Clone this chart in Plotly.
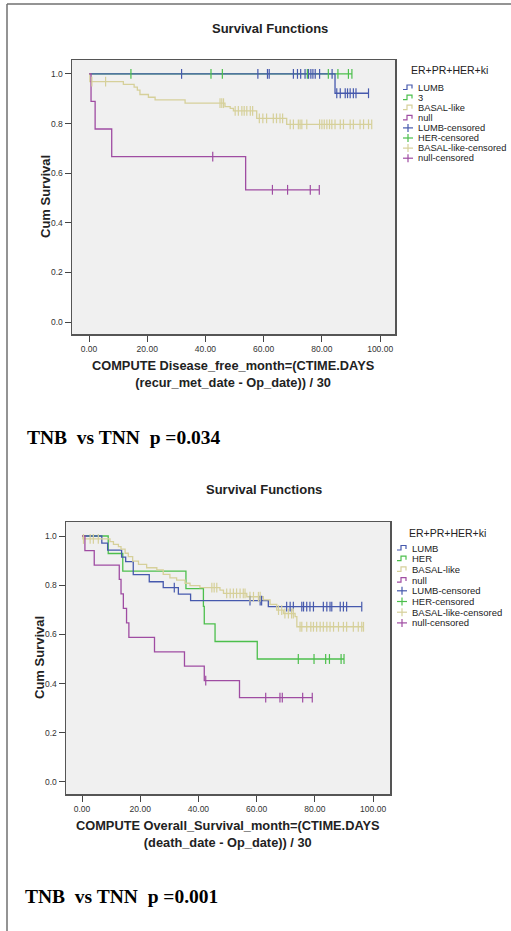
import plotly.graph_objects as go

W, H = 511, 931
FONT = "Liberation Sans, Arial, sans-serif"
SERIF = "Liberation Serif, Times New Roman, serif"

# ---------------- tick labels ----------------
x_ticks = [0, 20, 40, 60, 80, 100]
x_tick_labels = ["0.00", "20.00", "40.00", "60.00", "80.00", "100.00"]
y_ticks = [0.0, 0.2, 0.4, 0.6, 0.8, 1.0]
y_tick_labels = ["0.0", "0.2", "0.4", "0.6", "0.8", "1.0"]

# ---------------- chart 1: disease-free survival ----------------
dfs_lumb_t = [84.5]
dfs_lumb_s = [0.922]
dfs_lumb_cens = [31.8, 58.0, 61.3, 61.9, 70.2, 71.6, 72.7, 74.2, 75.4, 76.2, 76.9,
                 77.7, 79.2, 83.5, 85.1, 86.3, 88.0, 88.8, 89.7, 90.8, 91.7, 96.0]

dfs_her_t = []
dfs_her_s = []
dfs_her_cens = [14.4, 41.9, 45.8, 75.0, 82.2, 85.5, 89.1, 90.3]

dfs_basal_t = [0.3, 11.8, 15.5, 16.6, 17.5, 20.4, 22.7, 33.0, 46.7, 48.5, 49.6, 57.6, 67.9]
dfs_basal_s = [0.969, 0.958, 0.947, 0.935, 0.917, 0.906, 0.895, 0.882, 0.868, 0.861,
               0.851, 0.821, 0.797]
dfs_basal_cens = [1.0, 5.7, 45.0, 45.6, 46.2, 50.2, 51.3, 52.5, 53.3, 54.2, 55.4, 56.2,
                  58.5, 59.7, 61.0, 63.3, 64.4, 65.6, 66.5, 69.1, 70.2, 71.9, 72.5, 73.1,
                  74.8, 79.2, 80.0, 80.8, 81.7, 82.6, 83.4, 84.5, 86.3, 87.4, 89.7, 90.8,
                  93.1, 94.3, 96.0, 97.1]

dfs_null_t = [0.7, 2.1, 7.8, 53.8]
dfs_null_s = [0.889, 0.778, 0.667, 0.533]
dfs_null_cens = [42.5, 63.0, 68.2, 76.0, 79.1]

# ---------------- chart 2: overall survival ----------------
os_lumb_t = [6.8, 8.8, 13.6, 15.0, 17.6, 23.1, 27.9, 33.1, 37.3, 64.0]
os_lumb_s = [0.971, 0.943, 0.914, 0.896, 0.843, 0.814, 0.790, 0.764, 0.737, 0.713]
os_lumb_cens = [31.7, 57.7, 61.2, 61.7, 70.3, 71.5, 72.6, 75.5, 76.1, 77.2, 78.3, 79.5,
                82.9, 84.1, 85.2, 85.8, 88.7, 89.8, 90.9, 96.1]

os_her_t = [9.0, 14.0, 35.7, 41.7, 42.0, 45.7, 60.2]
os_her_s = [0.929, 0.857, 0.786, 0.714, 0.643, 0.571, 0.500]
os_her_cens = [74.3, 79.7, 83.7, 85.0, 89.0, 90.0]

os_basal_t = [0.3, 9.6, 10.8, 12.5, 13.4, 14.8, 15.9, 17.4, 19.4, 22.2, 25.7, 27.9, 30.2,
              32.5, 35.4, 37.1, 40.5, 47.4, 48.6, 56.6, 62.3, 64.6, 66.9, 69.2, 73.2, 73.8]
os_basal_s = [0.988, 0.977, 0.966, 0.957, 0.947, 0.930, 0.916, 0.898, 0.885, 0.871, 0.862,
              0.844, 0.830, 0.821, 0.808, 0.798, 0.790, 0.780, 0.767, 0.753, 0.740, 0.722,
              0.699, 0.685, 0.672, 0.631]
os_basal_cens = [0.5, 2.8, 3.9, 5.6, 44.6, 45.4, 46.3, 49.7, 50.9, 52.0, 53.1, 54.3, 55.4,
                 56.0, 57.7, 58.9, 60.6, 61.2, 67.5, 68.6, 69.7, 70.9, 72.0, 72.6, 74.9,
                 75.5, 77.2, 78.6, 79.5, 80.6, 81.8, 82.9, 84.1, 85.2, 86.4, 88.1, 89.8,
                 90.9, 93.2, 94.9, 96.1, 96.7]

os_null_t = [1.0, 4.2, 12.8, 13.4, 14.2, 15.3, 16.1, 24.9, 35.2, 42.0, 54.1]
os_null_s = [0.941, 0.882, 0.824, 0.765, 0.706, 0.647, 0.588, 0.529, 0.471, 0.412, 0.343]
os_null_cens = [42.5, 63.1, 68.0, 68.8, 75.8, 79.1]

legend_title = "ER+PR+HER+ki"
legend_labels_1 = ["LUMB", "3", "BASAL-like", "null", "LUMB-censored", "HER-censored",
                   "BASAL-like-censored", "null-censored"]
legend_labels_2 = ["LUMB", "HER", "BASAL-like", "null", "LUMB-censored", "HER-censored",
                   "BASAL-like-censored", "null-censored"]

C_LUMB = "#4659ad"
C_HER = "#4cbf4c"
C_BASAL = "#d6d09a"
C_NULL = "#9f4ca2"
series_colors = [C_LUMB, C_HER, C_BASAL, C_NULL]


def px(x):
    return x / W


def py(y):
    return 1 - y / H


def surv_at(t, ev_t, ev_s):
    s = 1.0
    for et, es in zip(ev_t, ev_s):
        if et <= t:
            s = es
    return s


fig = go.Figure()


def add_line(xa, ya, ev_t, ev_s, cens, color):
    t_end = max(list(ev_t) + list(cens))
    last = ev_s[-1] if ev_s else 1.0
    xs = [0] + list(ev_t) + [t_end]
    ys = [1.0] + list(ev_s) + [last]
    fig.add_trace(go.Scatter(x=xs, y=ys, mode="lines", xaxis=xa, yaxis=ya,
                             line=dict(color=color, width=1.3, shape="hv"),
                             showlegend=False, hoverinfo="skip"))


def add_cens(xa, ya, ev_t, ev_s, cens, color):
    ys = [surv_at(t, ev_t, ev_s) for t in cens]
    fig.add_trace(go.Scatter(x=cens, y=ys, mode="markers", xaxis=xa, yaxis=ya,
                             marker=dict(symbol="line-ns-open", size=7, color=color,
                                         line=dict(color=color, width=1.2)),
                             showlegend=False, hoverinfo="skip"))


chart1 = [
    (dfs_her_t, dfs_her_s, dfs_her_cens, C_HER),
    (dfs_lumb_t, dfs_lumb_s, dfs_lumb_cens, C_LUMB),
    (dfs_basal_t, dfs_basal_s, dfs_basal_cens, C_BASAL),
    (dfs_null_t, dfs_null_s, dfs_null_cens, C_NULL),
]
chart2 = [
    (os_her_t, os_her_s, os_her_cens, C_HER),
    (os_lumb_t, os_lumb_s, os_lumb_cens, C_LUMB),
    (os_basal_t, os_basal_s, os_basal_cens, C_BASAL),
    (os_null_t, os_null_s, os_null_cens, C_NULL),
]
for xa, ya, ch in [("x", "y", chart1), ("x2", "y2", chart2)]:
    for s in ch:
        add_line(xa, ya, *s)
    for s in ch:
        add_cens(xa, ya, *s)

axis_common = dict(showgrid=False, zeroline=False, ticks="outside", ticklen=6,
                   tickwidth=1, tickcolor="#444444", showline=True, mirror=True,
                   linecolor="#555555", linewidth=1.5,
                   tickfont=dict(family=FONT, size=8.5, color="#333333"))

fig.update_layout(
    width=W, height=H, margin=dict(l=0, r=0, t=0, b=0),
    paper_bgcolor="white", plot_bgcolor="#f0f0f0", showlegend=False,
    xaxis=dict(domain=[px(72), px(395)], range=[-5.84, 105.1], anchor="y",
               tickvals=x_ticks, ticktext=x_tick_labels, **axis_common),
    yaxis=dict(domain=[py(334), py(60)], range=[-0.048, 1.056], anchor="x",
               tickvals=y_ticks, ticktext=y_tick_labels, **axis_common),
    xaxis2=dict(domain=[px(66), px(390)], range=[-5.5, 105.8], anchor="y2",
                tickvals=x_ticks, ticktext=x_tick_labels, **axis_common),
    yaxis2=dict(domain=[py(794), py(522)], range=[-0.049, 1.057], anchor="x2",
                tickvals=y_ticks, ticktext=y_tick_labels, **axis_common),
)

ann = []
shapes = []


def text(x, y, s, size, bold=False, family=FONT, xanchor="center", angle=0, color="#222222"):
    ann.append(dict(x=px(x), y=py(y), xref="paper", yref="paper",
                    text=(f"<b>{s}</b>" if bold else s),
                    showarrow=False, xanchor=xanchor, yanchor="middle", textangle=angle,
                    font=dict(family=family, size=size, color=color)))


# page border
shapes.append(dict(type="line", xref="paper", yref="paper", x0=px(7), y0=py(4), x1=1, y1=py(4),
                   line=dict(color="#707070", width=1.5)))
shapes.append(dict(type="line", xref="paper", yref="paper", x0=px(7), y0=py(4), x1=px(7), y1=0,
                   line=dict(color="#707070", width=1.5)))

# titles
text(269.5, 28, "Survival Functions", 13, bold=True)
text(264, 489, "Survival Functions", 13, bold=True)

# axis titles
text(45, 197, "Cum Survival", 13, bold=True, angle=-90)
text(233.5, 374, "COMPUTE Disease_free_month=(CTIME.DAYS<br>(recur_met_date - Op_date)) / 30",
     12.8, bold=True)
text(39, 658, "Cum Survival", 13, bold=True, angle=-90)
text(228, 834, "COMPUTE Overall_Survival_month=(CTIME.DAYS<br>(death_date - Op_date)) / 30",
     12.8, bold=True)

# p-value notes
text(25, 438, "TNB\u00a0 vs TNN\u00a0 p =0.034", 19.5, bold=True, family=SERIF, xanchor="left",
     color="#000000")
text(23, 896, "TNB\u00a0 vs TNN\u00a0 p =0.001", 19.5, bold=True, family=SERIF, xanchor="left",
     color="#000000")


def legend(tx, ty, x0, y0, dy, labels, fsize):
    text(tx, ty, legend_title, 10.5)
    for i, lab in enumerate(labels):
        yc = y0 + dy * i
        col = series_colors[i % 4]
        if i < 4:
            path = (f"M {px(x0)},{py(yc + 2)} L {px(x0 + 4)},{py(yc + 2)} "
                    f"L {px(x0 + 4)},{py(yc - 2.5)} L {px(x0 + 9)},{py(yc - 2.5)} "
                    f"L {px(x0 + 9)},{py(yc + 1)}")
            shapes.append(dict(type="path", xref="paper", yref="paper", path=path,
                               line=dict(color=col, width=1.2)))
        else:
            shapes.append(dict(type="line", xref="paper", yref="paper", x0=px(x0), y0=py(yc),
                               x1=px(x0 + 10), y1=py(yc), line=dict(color=col, width=1.2)))
            shapes.append(dict(type="line", xref="paper", yref="paper", x0=px(x0 + 5),
                               y0=py(yc - 4), x1=px(x0 + 5), y1=py(yc + 4),
                               line=dict(color=col, width=1.2)))
        text(x0 + 13, yc, lab, fsize, xanchor="left")


legend(449, 70, 403, 87.5, 10.1, legend_labels_1, 9.3)
legend(447, 533, 397, 548, 10.7, legend_labels_2, 9.5)

fig.update_layout(annotations=ann, shapes=shapes)
fig.write_html("out.html",
               config={"displayModeBar": False, "staticPlot": True},
               post_script="document.body.style.margin='0';"
                           "document.documentElement.style.overflow='hidden';")
